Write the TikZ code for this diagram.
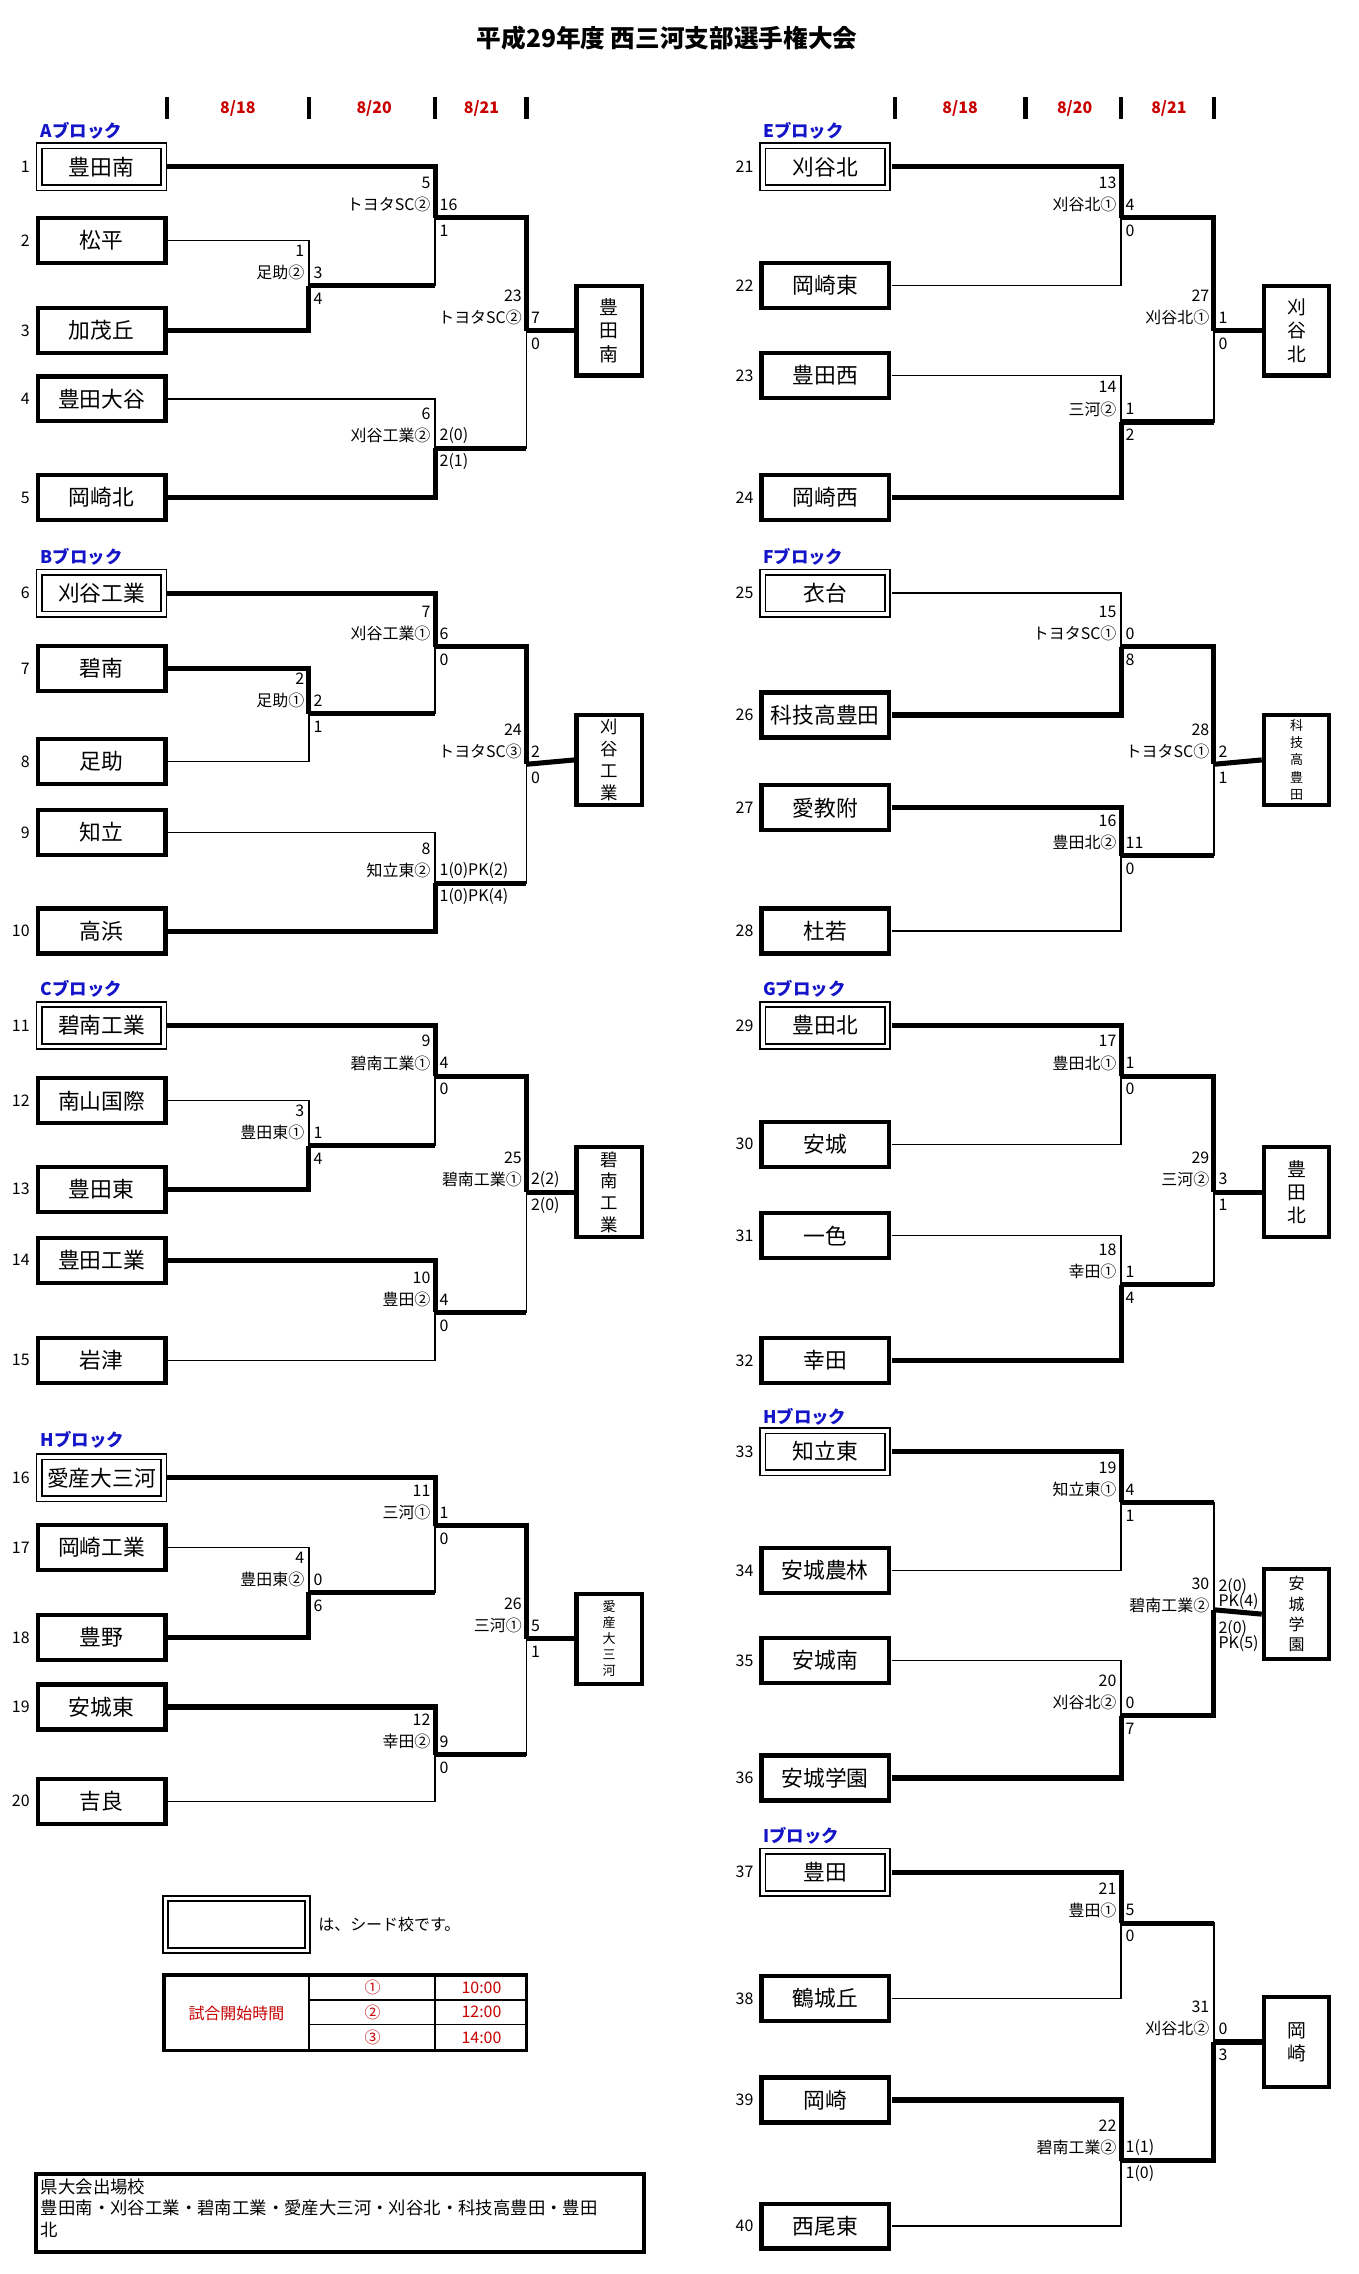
\documentclass[tikz,border=0pt]{standalone}
\usepackage{fontspec}
\setmainfont{Noto Sans CJK JP}
\definecolor{rd}{RGB}{200,0,0}
\definecolor{bl}{RGB}{20,20,200}
\tikzset{thk/.style={line width=3.5pt},thn/.style={line width=1pt},
 tbox/.style={draw,line width=3pt,minimum width=88pt,minimum height=31pt,inner sep=0pt,font=\fontsize{15}{15}\selectfont},
 sbox/.style={draw,line width=1.2pt,double,double distance=2.5pt,minimum width=86pt,minimum height=29pt,inner sep=0pt,font=\fontsize{15}{15}\selectfont},
 fbox/.style={draw,line width=3pt,minimum width=45pt,minimum height=62pt,inner sep=0pt,align=center},
 lab/.style={font=\fontsize{11}{11}\selectfont,inner sep=1pt},
 blk/.style={font=\bfseries\itshape\fontsize{12}{12}\selectfont,text=bl,anchor=west,inner sep=0pt},
 num/.style={font=\fontsize{11}{11}\selectfont}}
\makeatletter
\def\mywin{t}
\newcommand\HX[3]{\ifnum#1=115 \else\ifnum#1=615 \else \draw[thk] (#1,#3)--(#2,#3);\fi\fi}
\newcommand\M[7]{\def\my@w{#7}%
 \ifx\my@w\mywin
  \draw[thk] (#5,#2)--(#1,#2)--(#1,#4);
  \draw[thn] (#6,#3)--(#1,#3)--(#1,#4);
  \HX{#6}{#1}{#3}%
 \else
  \draw[thn] (#5,#2)--(#1,#2)--(#1,#4);
  \draw[thk] (#6,#3)--(#1,#3)--(#1,#4);
  \HX{#5}{#1}{#2}%
 \fi}
\makeatother
\newcommand\Lb[6]{%
 \node[lab,anchor=east] at (#1-2,#2-24) {#3};
 \node[lab,anchor=east] at (#1-2,#2-9) {#4};
 \node[lab,anchor=west] at (#1+2,#2-9) {#5};
 \node[lab,anchor=west] at (#1+2,#2+9) {#6};}
\newcommand\T[5]{% x center, y, name, number, style
 \node[#5] (t#4) at (#1,#2) {#3};
 \node[num,anchor=east] at (#1-46,#2) {#4};}
\begin{document}
\begin{tikzpicture}[x=1pt,y=-1pt]
\useasboundingbox[fill=white] (0,0) rectangle (937,1568);
\node[font=\bfseries\fontsize{17}{17}\selectfont] (title) at (460,26) {平成29年度 西三河支部選手権大会};
% headers
\foreach \x in {115,213,300,363,617,707,773,837} \draw[line width=3pt] (\x,67)--(\x,82);
\foreach \x/\d in {164/8\slash18,258/8\slash20,332/8\slash21,662/8\slash18,741/8\slash20,806/8\slash21}
 \node[text=rd,font=\bfseries\fontsize{11}{11}\selectfont] at (\x,75) {\d};
% ===== left blocks =====
\node[blk] at (28,90) {Aブロック};
\T{70}{115}{豊田南}{1}{sbox}\T{70}{166}{松平}{2}{tbox}\T{70}{228}{加茂丘}{3}{tbox}\T{70}{275}{豊田大谷}{4}{tbox}\T{70}{343}{岡崎北}{5}{tbox}
\M{213}{166}{228}{197}{115}{115}{b}\Lb{213}{197}{1}{足助②}{3}{4}
\M{300}{115}{197}{150}{115}{213}{t}\Lb{300}{150}{5}{トヨタSC②}{16}{1}
\M{300}{275}{343}{309}{115}{115}{b}\Lb{300}{309}{6}{刈谷工業②}{2(0)}{2(1)}
\M{363}{150}{309}{228}{300}{300}{t}\Lb{363}{228}{23}{トヨタSC②}{7}{0}
\node[fbox,font=\fontsize{13}{16}\selectfont] (fA) at (420,228) {豊\\田\\南};
\draw[thk] (363,228)--(fA.west);

\node[blk] at (28,384) {Bブロック};
\T{70}{409}{刈谷工業}{6}{sbox}\T{70}{461}{碧南}{7}{tbox}\T{70}{525}{足助}{8}{tbox}\T{70}{574}{知立}{9}{tbox}\T{70}{642}{高浜}{10}{tbox}
\M{213}{461}{525}{492}{115}{115}{t}\Lb{213}{492}{2}{足助①}{2}{1}
\M{300}{409}{492}{446}{115}{213}{t}\Lb{300}{446}{7}{刈谷工業①}{6}{0}
\M{300}{574}{642}{609}{115}{115}{b}\Lb{300}{609}{8}{知立東②}{1(0)PK(2)}{1(0)PK(4)}
\M{363}{446}{609}{527}{300}{300}{t}\Lb{363}{527}{24}{トヨタSC③}{2}{0}
\node[fbox,font=\fontsize{12}{15}\selectfont] (fB) at (420,524) {刈\\谷\\工\\業};
\draw[thk] (363,527)--(fB.west);

\node[blk] at (28,682) {Cブロック};
\T{70}{707}{碧南工業}{11}{sbox}\T{70}{759}{南山国際}{12}{tbox}\T{70}{820}{豊田東}{13}{tbox}\T{70}{869}{豊田工業}{14}{tbox}\T{70}{938}{岩津}{15}{tbox}
\M{213}{759}{820}{790}{115}{115}{b}\Lb{213}{790}{3}{豊田東①}{1}{4}
\M{300}{707}{790}{742}{115}{213}{t}\Lb{300}{742}{9}{碧南工業①}{4}{0}
\M{300}{869}{938}{905}{115}{115}{t}\Lb{300}{905}{10}{豊田②}{4}{0}
\M{363}{742}{905}{822}{300}{300}{t}\Lb{363}{822}{25}{碧南工業①}{2(2)}{2(0)}
\node[fbox,font=\fontsize{12}{15}\selectfont] (fC) at (420,822) {碧\\南\\工\\業};
\draw[thk] (363,822)--(fC.west);

\node[blk] at (28,993) {Hブロック};
\T{70}{1019}{愛産大三河}{16}{sbox}\T{70}{1067}{岡崎工業}{17}{tbox}\T{70}{1129}{豊野}{18}{tbox}\T{70}{1177}{安城東}{19}{tbox}\T{70}{1242}{吉良}{20}{tbox}
\M{213}{1067}{1129}{1098}{115}{115}{b}\Lb{213}{1098}{4}{豊田東②}{0}{6}
\M{300}{1019}{1098}{1052}{115}{213}{t}\Lb{300}{1052}{11}{三河①}{1}{0}
\M{300}{1177}{1242}{1210}{115}{115}{t}\Lb{300}{1210}{12}{幸田②}{9}{0}
\M{363}{1052}{1210}{1130}{300}{300}{t}\Lb{363}{1130}{26}{三河①}{5}{1}
\node[fbox,font=\fontsize{9}{11}\selectfont] (fH) at (420,1130) {愛\\産\\大\\三\\河};
\draw[thk] (363,1130)--(fH.west);

% ===== right blocks =====
\node[blk] at (526,90) {Eブロック};
\T{569}{115}{刈谷北}{21}{sbox}\T{569}{197}{岡崎東}{22}{tbox}\T{569}{259}{豊田西}{23}{tbox}\T{569}{343}{岡崎西}{24}{tbox}
\M{773}{115}{197}{150}{615}{615}{t}\Lb{773}{150}{13}{刈谷北①}{4}{0}
\M{773}{259}{343}{291}{615}{615}{b}\Lb{773}{291}{14}{三河②}{1}{2}
\M{837}{150}{291}{228}{773}{773}{t}\Lb{837}{228}{27}{刈谷北①}{1}{0}
\node[fbox,font=\fontsize{13}{16}\selectfont] (fE) at (894,228) {刈\\谷\\北};
\draw[thk] (837,228)--(fE.west);

\node[blk] at (526,384) {Fブロック};
\T{569}{409}{衣台}{25}{sbox}\T{569}{493}{科技高豊田}{26}{tbox}\T{569}{557}{愛教附}{27}{tbox}\T{569}{642}{杜若}{28}{tbox}
\M{773}{409}{493}{446}{615}{615}{b}\Lb{773}{446}{15}{トヨタSC①}{0}{8}
\M{773}{557}{642}{590}{615}{615}{t}\Lb{773}{590}{16}{豊田北②}{11}{0}
\M{837}{446}{590}{527}{773}{773}{t}\Lb{837}{527}{28}{トヨタSC①}{2}{1}
\node[fbox,font=\fontsize{9}{12}\selectfont] (fF) at (894,524) {科\\技\\高\\豊\\田};
\draw[thk] (837,527)--(fF.west);

\node[blk] at (526,682) {Gブロック};
\T{569}{707}{豊田北}{29}{sbox}\T{569}{789}{安城}{30}{tbox}\T{569}{852}{一色}{31}{tbox}\T{569}{938}{幸田}{32}{tbox}
\M{773}{707}{789}{742}{615}{615}{t}\Lb{773}{742}{17}{豊田北①}{1}{0}
\M{773}{852}{938}{886}{615}{615}{b}\Lb{773}{886}{18}{幸田①}{1}{4}
\M{837}{742}{886}{822}{773}{773}{t}\Lb{837}{822}{29}{三河②}{3}{1}
\node[fbox,font=\fontsize{13}{16}\selectfont] (fG) at (894,822) {豊\\田\\北};
\draw[thk] (837,822)--(fG.west);

\node[blk] at (526,977) {Hブロック};
\T{569}{1001}{知立東}{33}{sbox}\T{569}{1083}{安城農林}{34}{tbox}\T{569}{1145}{安城南}{35}{tbox}\T{569}{1226}{安城学園}{36}{tbox}
\M{773}{1001}{1083}{1036}{615}{615}{t}\Lb{773}{1036}{19}{知立東①}{4}{1}
\M{773}{1145}{1226}{1183}{615}{615}{b}\Lb{773}{1183}{20}{刈谷北②}{0}{7}
\M{837}{1036}{1183}{1110}{773}{773}{b}
\node[lab,anchor=east] at (835,1092) {30};
\node[lab,anchor=east] at (835,1107) {碧南工業②};
\node[lab,anchor=west,align=left] at (839,1099) {2(0)\\[-2pt]PK(4)};
\node[lab,anchor=west,align=left] at (839,1128) {2(0)\\[-2pt]PK(5)};
\node[fbox,font=\fontsize{11}{14}\selectfont] (fHr) at (894,1113) {安\\城\\学\\園};
\draw[thk] (837,1110)--(fHr.west);

\node[blk] at (526,1266) {Iブロック};
\T{569}{1291}{豊田}{37}{sbox}\T{569}{1378}{鶴城丘}{38}{tbox}\T{569}{1448}{岡崎}{39}{tbox}\T{569}{1535}{西尾東}{40}{tbox}
\M{773}{1291}{1378}{1326}{615}{615}{t}\Lb{773}{1326}{21}{豊田①}{5}{0}
\M{773}{1448}{1535}{1490}{615}{615}{t}\Lb{773}{1490}{22}{碧南工業②}{1(1)}{1(0)}
\M{837}{1326}{1490}{1408}{773}{773}{b}\Lb{837}{1408}{31}{刈谷北②}{0}{3}
\node[fbox,font=\fontsize{13}{16}\selectfont] (fI) at (894,1408) {岡\\崎};
\draw[thk] (837,1408)--(fI.west);

% ===== legend =====
\node[sbox,minimum width=98pt,minimum height=36pt] (seed) at (163,1327) {};
\node[anchor=west,font=\fontsize{11}{11}\selectfont] (seedt) at (216,1327) {は、シード校です。};
\draw[line width=2.5pt] (113,1362) rectangle (363,1414);
\draw[thn] (213,1362)--(213,1414) (300,1362)--(300,1414) (213,1379)--(363,1379) (213,1396)--(363,1396);
\node[text=rd,font=\fontsize{11}{11}\selectfont] (tt) at (163,1388) {試合開始時間};
\foreach \y/\c/\t in {1370.5/①/10:00,1387.5/②/12:00,1405/③/14:00}{
 \node[text=rd,font=\fontsize{11}{11}\selectfont] at (257,\y) {\c};
 \node[text=rd,font=\fontsize{11}{11}\selectfont] at (332,\y) {\t};}
\draw[line width=2.5pt] (25,1499) rectangle (444,1553);
\node[anchor=north west,align=left,inner sep=0pt,font=\fontsize{12}{15}\selectfont] (ken) at (28,1502) {県大会出場校\\豊田南・刈谷工業・碧南工業・愛産大三河・刈谷北・科技高豊田・豊田\\北};
\end{tikzpicture}
\end{document}
